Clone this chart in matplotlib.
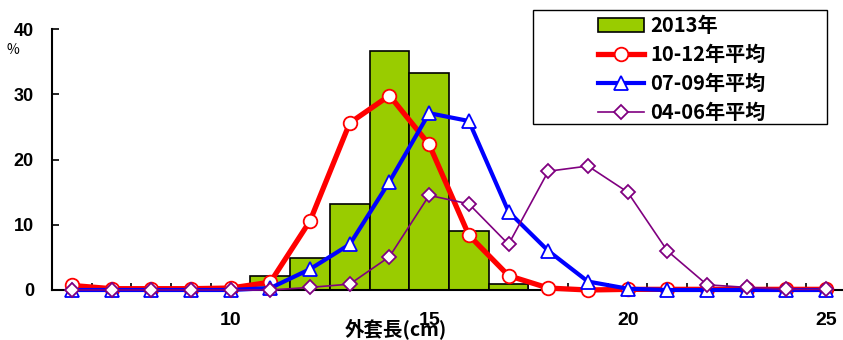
import matplotlib
matplotlib.use("Agg")
import matplotlib.pyplot as plt
from matplotlib.patches import Rectangle
import numpy as np

plt.rcParams['font.family'] = ['Liberation Sans', 'Noto Sans CJK JP', 'DejaVu Sans']

sizes = list(range(6, 26))  # 外套長 categories (cm)
bar_2013 = [0, 0, 0, 0, 0, 2.2, 4.9, 13.2, 36.6, 33.3, 9.1, 0.9,
            0, 0, 0, 0, 0, 0, 0, 0]
avg_10_12 = [0.7, 0.2, 0.2, 0.2, 0.3, 1.2, 10.6, 25.6, 29.8, 22.3, 8.4, 2.2,
             0.3, 0.0, 0.1, 0.1, 0.1, 0.1, 0.1, 0.1]
avg_07_09 = [0, 0, 0, 0, 0, 0.3, 3.2, 7.0, 16.6, 27.1, 25.9, 12.0,
             6.0, 1.3, 0.2, 0, 0, 0, 0, 0]
avg_04_06 = [0, 0, 0, 0, 0, 0, 0.4, 0.9, 5.1, 14.5, 13.2, 7.0,
             18.2, 19.0, 15.0, 6.0, 0.8, 0.4, 0.1, 0.1]
labels = ['2013年', '10-12年平均', '07-09年平均', '04-06年平均']
xticks = [10, 15, 20, 25]
yticks = [0, 10, 20, 30, 40]

W, H = 843, 340
fig = plt.figure(figsize=(W / 100, H / 100), dpi=100)
ax = fig.add_axes([52 / W, 50 / H, 794 / W, 261 / H])

bars = ax.bar(sizes, bar_2013, width=1.0, color='#99CC00', edgecolor='black',
              linewidth=1.2, zorder=2, label=labels[0])
l1, = ax.plot(sizes, avg_10_12, color='#FF0000', lw=3.8, marker='o', ms=9.8,
              mfc='white', mec='#FF0000', mew=1.3, zorder=3, label=labels[1],
              clip_on=False)
l2, = ax.plot(sizes, avg_07_09, color='#0000FF', lw=3.0, marker='^', ms=10,
              mfc='white', mec='#0000FF', mew=1.3, zorder=4, label=labels[2],
              clip_on=False)
l3, = ax.plot(sizes, avg_04_06, color='#800080', lw=1.2, marker='D', ms=7.2,
              mfc='white', mec='#800080', mew=1.3, zorder=5, label=labels[3],
              clip_on=False)

ax.set_xlim(5.5, 25.5)
ax.set_ylim(0, 40)
for s in ['top', 'right']:
    ax.spines[s].set_visible(False)
for s in ['left', 'bottom']:
    ax.spines[s].set_linewidth(1.5)
    ax.spines[s].set_zorder(2.5)

ax.set_xticks(xticks)
ax.set_xticklabels([str(t) for t in xticks], fontsize=14, fontweight='bold')
ax.set_xticks(np.arange(5.5, 26, 1.0), minor=True)
ax.tick_params(axis='x', which='major', length=0, pad=16)
ax.tick_params(axis='x', which='minor', length=5, width=1.2, direction='in')
ax.set_yticks(yticks)
ax.set_yticklabels([str(t) for t in yticks], fontsize=13, fontweight='bold')
ax.tick_params(axis='y', which='major', length=5, width=1.2, direction='in', pad=13)

fig.text(13 / W, 1 - 50 / H, '%', fontsize=10, ha='center', va='center',
         family=['Noto Sans CJK JP'])
fig.text(396 / W, 1 - 329 / H, '外套長(cm)', fontsize=14, fontweight='bold',
         ha='center', va='center', family=['Noto Sans CJK JP'])

# legend
x0, y0, x1, y1 = 533, 10, 827, 124
fig.patches.append(Rectangle((x0 / W, 1 - y1 / H), (x1 - x0) / W, (y1 - y0) / H,
                             transform=fig.transFigure, fill=True, facecolor='white',
                             edgecolor='black', linewidth=1.0, zorder=10))
leg = fig.legend([bars, l1, l2, l3], labels, loc='center',
                 bbox_to_anchor=((x0 + x1) / 2 / W + 0.002, 1 - ((y0 + y1) / 2 + 2) / H),
                 frameon=False, handlelength=2.3, handletextpad=0.3,
                 labelspacing=0.4, borderpad=0,
                 prop={'family': ['Noto Sans CJK JP'], 'weight': 'bold', 'size': 14.5})
leg.set_zorder(11)

fig.savefig('out.png', dpi=100)
